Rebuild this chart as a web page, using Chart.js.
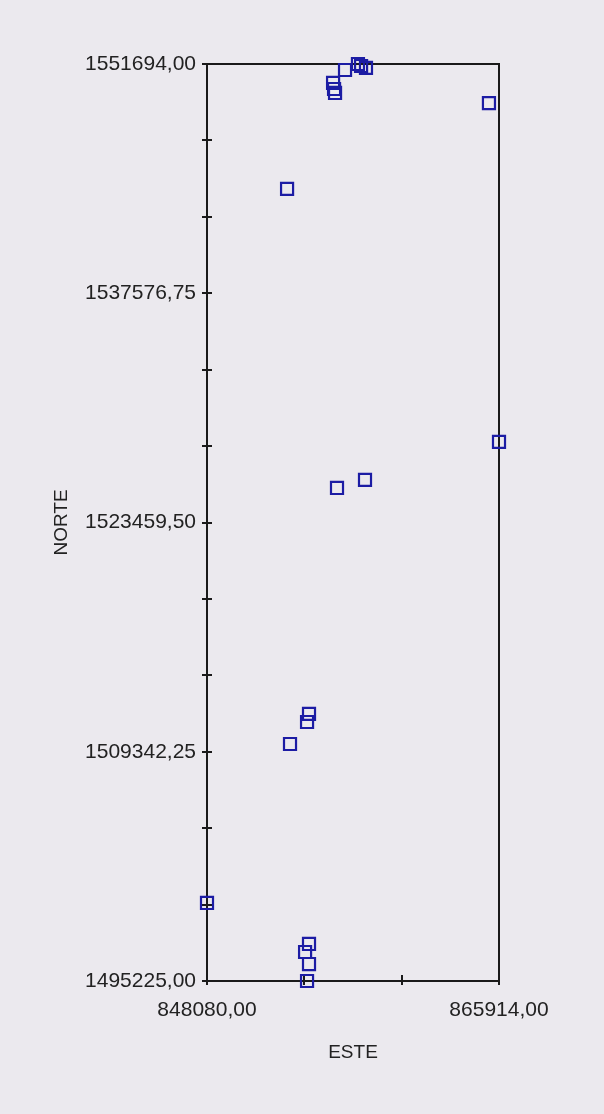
<!DOCTYPE html>
<html>
<head>
<meta charset="utf-8">
<script src="https://cdn.jsdelivr.net/npm/chart.js@4/dist/chart.umd.min.js"></script>
<style>
    html, body { margin: 0; padding: 0; background: #ebe9ee; }
</style>
</head>
<body>
<canvas id="esteNorteChart" width="604" height="1114"></canvas>
<script>
// ESTE / NORTE scatter: values

const esteValues = [
    857300, 857490, 857790, 856510, 855780, 855840, 855900, 865300,
    852970, 865914, 856020, 857730, 854310, 854190, 853150, 848080,
    854310, 854070, 854310, 854190
];
const norteValues = [
    1551694, 1551570, 1551450, 1551325, 1550525, 1550155, 1549910, 1549290,
    1544000, 1528420, 1525585, 1526080, 1511670, 1511175, 1509820, 1500030,
    1497505, 1497010, 1496270, 1495225
];

const esteTicks = [848080, 854024.67, 859969.33, 865914];
const esteTickLabels = ['848080,00', '', '', '865914,00'];
const norteTicks = [
    1495225, 1499930.75, 1504636.5, 1509342.25, 1514048, 1518753.75, 1523459.5,
    1528165.25, 1532871, 1537576.75, 1542282.5, 1546988.25, 1551694
];
const norteTickLabels = [
    '1495225,00', '', '', '1509342,25', '', '', '1523459,50',
    '', '', '1537576,75', '', '', '1551694,00'
];

const axisColor = '#1a1a1a';
const textColor = '#222222';
const markerColor = '#1c1ca4';

// box around the plot and the small inward tick marks
const frameAndTicks = {
    id: 'frameAndTicks',
    beforeDatasetsDraw(chart) {
        const { ctx, chartArea: a, scales } = chart;
        ctx.save();
        ctx.strokeStyle = axisColor;
        ctx.lineWidth = 2;
        ctx.strokeRect(a.left, a.top, a.right - a.left, a.bottom - a.top);
        ctx.beginPath();
        scales.y.ticks.forEach(t => {
            const py = Math.round(scales.y.getPixelForValue(t.value));
            ctx.moveTo(a.left, py);
            ctx.lineTo(a.left + 5, py);
        });
        scales.x.ticks.forEach(t => {
            const px = Math.round(scales.x.getPixelForValue(t.value));
            ctx.moveTo(px, a.bottom);
            ctx.lineTo(px, a.bottom - 6);
        });
        ctx.stroke();
        ctx.restore();
    }
};

const ctx = document.getElementById('esteNorteChart').getContext('2d');
new Chart(ctx, {
    type: 'scatter',
    data: {
        datasets: [{
            label: 'NORTE',
            data: esteValues.map((x, i) => ({ x: x, y: norteValues[i] })),
            pointStyle: 'rect',
            pointRadius: 8.5,
            pointHoverRadius: 8.5,
            borderWidth: 2.2,
            borderColor: markerColor,
            backgroundColor: 'rgba(0,0,0,0)',
            clip: false
        }]
    },
    plugins: [frameAndTicks],
    options: {
        responsive: false,
        animation: false,
        layout: { padding: { left: 0, top: 64, right: 105, bottom: 0 } },
        plugins: {
            legend: { display: false },
            tooltip: { enabled: false }
        },
        scales: {
            x: {
                type: 'linear',
                min: 848080,
                max: 865914,
                afterBuildTicks: s => { s.ticks = esteTicks.map(v => ({ value: v })); },
                afterFit: s => { s.height = 133; },
                ticks: {
                    autoSkip: false,
                    maxRotation: 0,
                    padding: 13,
                    color: textColor,
                    font: { family: 'Liberation Sans, Arial, sans-serif', size: 21 },
                    callback: (v, i) => esteTickLabels[i]
                },
                grid: { drawOnChartArea: false, tickLength: 4, color: axisColor, lineWidth: 2 },
                border: { color: axisColor, width: 2 },
                title: {
                    display: true,
                    text: 'ESTE',
                    color: textColor,
                    font: { family: 'Liberation Sans, Arial, sans-serif', size: 19 },
                    padding: { top: 0, bottom: 50 }
                }
            },
            y: {
                type: 'linear',
                min: 1495225,
                max: 1551694,
                afterBuildTicks: s => { s.ticks = norteTicks.map(v => ({ value: v })); },
                afterFit: s => { s.width = 207; },
                ticks: {
                    autoSkip: false,
                    padding: 6,
                    color: textColor,
                    font: { family: 'Liberation Sans, Arial, sans-serif', size: 21 },
                    callback: (v, i) => norteTickLabels[i]
                },
                grid: { drawOnChartArea: false, tickLength: 5, color: axisColor, lineWidth: 2 },
                border: { color: axisColor, width: 2 },
                title: {
                    display: true,
                    text: 'NORTE',
                    color: textColor,
                    font: { family: 'Liberation Sans, Arial, sans-serif', size: 19 },
                    padding: { top: 50, bottom: 0 }
                }
            }
        }
    }
});
</script>
</body>
</html>
